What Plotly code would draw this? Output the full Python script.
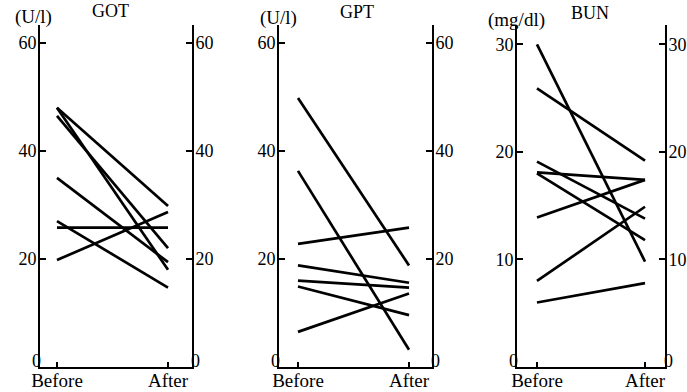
import plotly.graph_objects as go

# ---------------- data ----------------
x_labels = ["Before", "After"]

got_before = [48, 48, 46.5, 35, 27, 25.8, 19.8]
got_after = [29.8, 18, 22, 19.4, 14.7, 25.8, 28.7]

gpt_before = [49.8, 36.3, 22.8, 18.8, 16.0, 14.9, 6.5]
gpt_after = [18.8, 3.2, 25.8, 15.6, 14.7, 9.6, 13.6]

bun_before = [30, 25.9, 19.1, 18.1, 18.0, 13.9, 8.0, 6.0]
bun_after = [9.8, 19.2, 13.8, 17.4, 11.8, 17.4, 14.9, 7.8]

panels = [
    dict(name="GOT", unit="(U/l)", before=got_before, after=got_after,
         yticks=[20, 40, 60], yrange=[0, 63.3]),
    dict(name="GPT", unit="(U/l)", before=gpt_before, after=gpt_after,
         yticks=[20, 40, 60], yrange=[0, 63.3]),
    dict(name="BUN", unit="(mg/dl)", before=bun_before, after=bun_after,
         yticks=[10, 20, 30], yrange=[0, 31.8]),
]
zero_tick = [0]

# ---------------- layout geometry (page pixels) ----------------
W, H = 687, 392
x_px = [(40, 192), (279, 432), (517, 665)]
x_ranges = [[-0.153, 1.216], [-0.171, 1.207], [-0.185, 1.185]]
y_top, y_bot = 25, 367
title_pos = [(111, 11), (357, 12), (590, 13)]
unit_pos = [(33, 17), (278, 18), (516, 20)]


def px_x(v):
    return v / W


def px_y(v):
    return 1 - v / H


FONT = "Liberation Serif"
fig = go.Figure()
layout = dict(
    width=W, height=H,
    margin=dict(l=0, r=0, t=0, b=0, autoexpand=False),
    paper_bgcolor="white", plot_bgcolor="white",
    showlegend=False,
    font=dict(family=FONT, size=18, color="black"),
)
annotations = []

for i, p in enumerate(panels):
    n = i + 1
    xa = "x" if n == 1 else f"x{n}"
    ya = "y" if n == 1 else f"y{n}"
    yr, yz_l, yz_r = f"y{n + 3}", f"y{n + 6}", f"y{n + 9}"
    for b, a in zip(p["before"], p["after"]):
        fig.add_trace(go.Scatter(
            x=[0, 1], y=[b, a], mode="lines",
            line=dict(color="black", width=2.7),
            xaxis=xa, yaxis=ya, hoverinfo="skip"))
    for extra in (yr, yz_l, yz_r):
        fig.add_trace(go.Scatter(x=[None], y=[None], xaxis=xa, yaxis=extra,
                                 mode="lines", hoverinfo="skip"))

    xk = "xaxis" if n == 1 else f"xaxis{n}"
    yk = "yaxis" if n == 1 else f"yaxis{n}"
    layout[xk] = dict(
        domain=[px_x(x_px[i][0]), px_x(x_px[i][1])], anchor=ya,
        range=x_ranges[i], tickvals=[0, 1], ticktext=x_labels,
        ticks="inside", ticklen=5, tickwidth=1.5, tickcolor="black",
        showline=True, linecolor="black", linewidth=2,
        showgrid=False, zeroline=False, fixedrange=True,
        ticklabelstandoff=-5,
        tickfont=dict(family=FONT, size=19, color="black"),
    )
    dom = [px_y(y_bot), px_y(y_top)]
    yaxis_common = dict(
        domain=dom, range=p["yrange"], tickvals=p["yticks"],
        ticks="inside", ticklen=6, tickwidth=1.5, tickcolor="black",
        showline=True, linecolor="black", linewidth=2,
        showgrid=False, zeroline=False, fixedrange=True,
        ticklabelstandoff=-2,
        tickfont=dict(family=FONT, size=18, color="black"),
    )
    zero_common = dict(
        domain=dom, range=p["yrange"], tickvals=zero_tick,
        ticks="", showline=False, showgrid=False, zeroline=False,
        fixedrange=True, ticklabelstandoff=-2, ticklabelshift=-6,
        tickfont=dict(family=FONT, size=18, color="black"),
    )
    layout[yk] = dict(anchor=xa, side="left", **yaxis_common)
    layout[f"yaxis{n + 3}"] = dict(anchor=xa, side="right", overlaying=ya, **yaxis_common)
    layout[f"yaxis{n + 6}"] = dict(anchor=xa, side="left", overlaying=ya, **zero_common)
    layout[f"yaxis{n + 9}"] = dict(anchor=xa, side="right", overlaying=ya, **zero_common)

    annotations.append(dict(
        text=p["name"], x=px_x(title_pos[i][0]), y=px_y(title_pos[i][1]),
        xref="paper", yref="paper", xanchor="center", yanchor="middle",
        showarrow=False, font=dict(family=FONT, size=18, color="black")))
    annotations.append(dict(
        text=p["unit"], x=px_x(unit_pos[i][0]), y=px_y(unit_pos[i][1]),
        xref="paper", yref="paper", xanchor="center", yanchor="middle",
        showarrow=False, font=dict(family=FONT, size=19, color="black")))

layout["annotations"] = annotations
fig.update_layout(**layout)
fig.write_html(
    "out.html",
    config={"displayModeBar": False},
    post_script="document.body.style.margin='0';document.body.style.overflow='hidden';",
)
